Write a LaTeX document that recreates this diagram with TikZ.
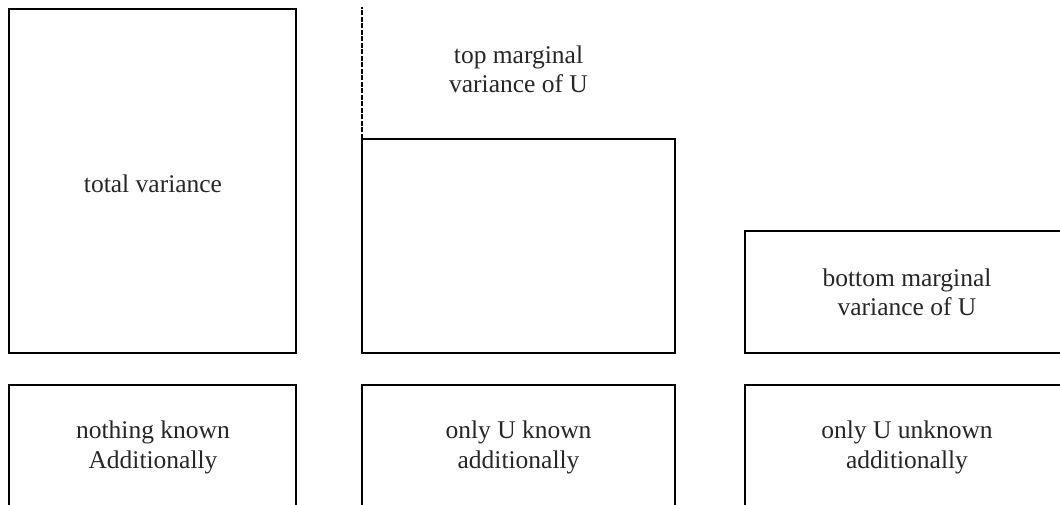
\documentclass[tikz,border=0pt]{standalone}
\usepackage{fontspec}
\setmainfont{Liberation Serif}
\begin{document}
\begin{tikzpicture}[x=1pt,y=-1pt,
  panel/.style={draw=black,line width=2pt,rectangle,anchor=north west,inner sep=0pt,outer sep=0pt},
  lbl/.style={anchor=base,inner sep=0pt,font=\fontsize{25.5}{29}\selectfont,text=black!85}
]
\useasboundingbox (0,0) rectangle (1060,505);
\begin{scope}
\clip (0,0) rectangle (1060,505);
\node[panel,minimum width=287pt,minimum height=343.5pt] (total) at (9,9) {};
\node[panel,minimum width=313pt,minimum height=213.5pt] (top) at (362,139) {};
\node[panel,minimum width=324pt,minimum height=121.5pt] (bottom) at (745,231) {};
\node[panel,minimum width=287pt,minimum height=140pt] (none) at (9,385) {};
\node[panel,minimum width=313pt,minimum height=140pt] (known) at (362,385) {};
\node[panel,minimum width=324pt,minimum height=140pt] (unknown) at (745,385) {};
\coordinate (dashend) at (362,7);
\draw[line width=2pt,dash pattern=on 5pt off 1.5pt] (top.north west) -- (dashend);
\end{scope}
\node[lbl] (t1) at (153,192.5) {total variance};
\node[lbl] (tm1) at (518.5,64) {top marginal};
\node[lbl] (tm2) at (518.5,93) {variance of U};
\node[lbl] (bm1) at (907,286) {bottom marginal};
\node[lbl] (bm2) at (907,315) {variance of U};
\node[lbl] (n1) at (153,438) {nothing known};
\node[lbl] (n2) at (153,468) {Additionally};
\node[lbl] (k1) at (518.5,438) {only U known};
\node[lbl] (k2) at (518.5,468) {additionally};
\node[lbl] (u1) at (907,438) {only U unknown};
\node[lbl] (u2) at (907,468) {additionally};
\end{tikzpicture}
\end{document}
